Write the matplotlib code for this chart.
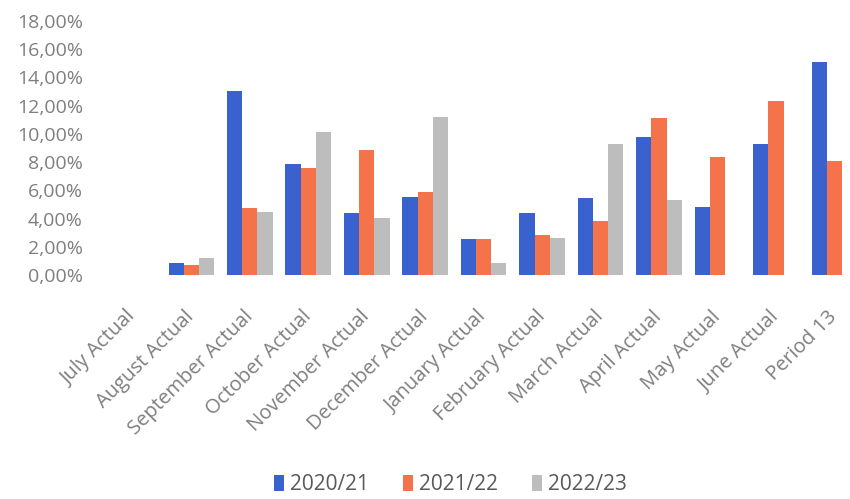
import matplotlib.pyplot as plt
import numpy as np

plt.rcParams['font.family'] = ['Open Sans', 'DejaVu Sans']

categories = ['July Actual', 'August Actual', 'September Actual', 'October Actual',
              'November Actual', 'December Actual', 'January Actual', 'February Actual',
              'March Actual', 'April Actual', 'May Actual', 'June Actual', 'Period 13']
series_names = ['2020/21', '2021/22', '2022/23']
s2020 = [0, 0.85, 13.05, 7.87, 4.4, 5.53, 2.55, 4.4, 5.46, 9.8, 4.8, 9.3, 15.1]
s2021 = [0, 0.7, 4.75, 7.6, 8.87, 5.9, 2.55, 2.84, 3.83, 11.13, 8.37, 12.34, 8.1]
s2022 = [0, 1.2, 4.47, 10.14, 4.05, 11.2, 0.85, 2.6, 9.3, 5.3, 0, 0, 0]
yticks = [0, 2, 4, 6, 8, 10, 12, 14, 16, 18]

colors = ['#3A62CF', '#F4734A', '#BDBDBD']
label_color = '#7F7F7F'

fig = plt.figure(figsize=(8.5, 4.99), dpi=100)
ax = fig.add_axes([0.122, 0.449, 0.894, 0.509])

x = np.arange(len(categories))
w = 0.26
for i, (vals, name) in enumerate(zip([s2020, s2021, s2022], series_names)):
    ax.bar(x + (i - 1) * w, vals, width=w, color=colors[i], label=name)

ax.set_xlim(-0.5, len(categories) - 0.5)
ax.set_ylim(0, 18)
ax.set_yticks(yticks)
ax.set_yticklabels([f'{v:.2f}'.replace('.', ',') + '%' for v in yticks])
ax.set_xticks(x)
ax.set_xticklabels(categories, rotation=45, ha='right', va='center',
                   rotation_mode='anchor', fontsize=14.5)

for s in ax.spines.values():
    s.set_visible(False)
ax.tick_params(axis='both', length=0, colors=label_color)
ax.tick_params(axis='y', labelsize=14, pad=15)
ax.tick_params(axis='x', pad=28)

fig.legend(loc='lower center', bbox_to_anchor=(0.53, -0.03), ncol=3, frameon=False,
           fontsize=15, labelcolor='#595959', handlelength=0.5, handleheight=0.8,
           handletextpad=0.3, columnspacing=1.6)

fig.savefig('out.png', dpi=100)
